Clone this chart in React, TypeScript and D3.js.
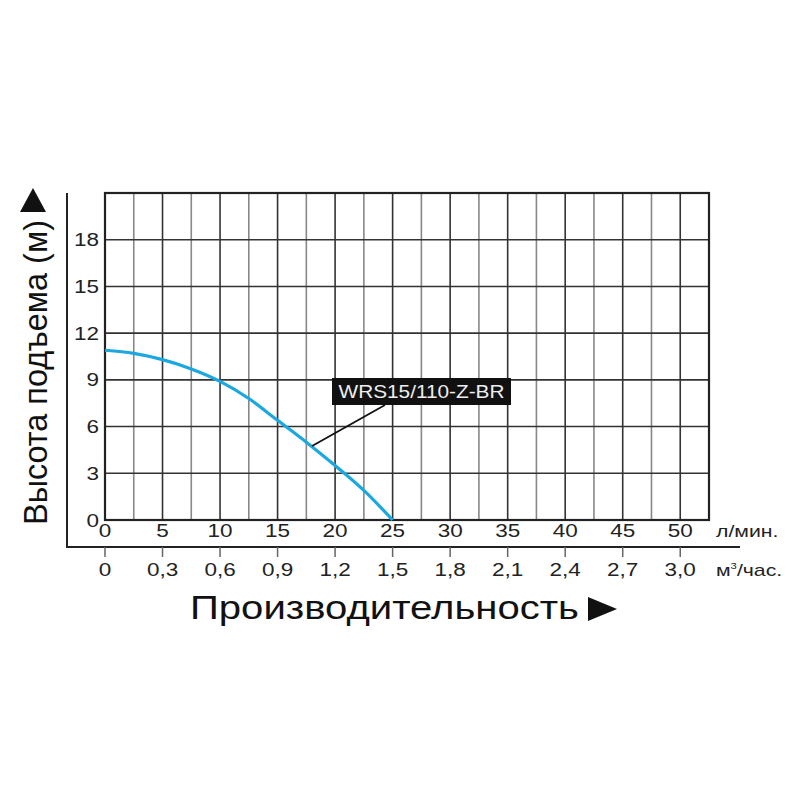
import React from 'react';
import * as d3 from 'd3';

const flowLpm = [0, 2.5, 5, 7.5, 10, 12.5, 15, 17.5, 20, 22.5, 25];
const headM = [10.9, 10.7, 10.3, 9.7, 8.9, 7.8, 6.4, 5.0, 3.5, 1.9, 0];

const lpmTicks = [0, 5, 10, 15, 20, 25, 30, 35, 40, 45, 50];
const m3Ticks = [0, 0.3, 0.6, 0.9, 1.2, 1.5, 1.8, 2.1, 2.4, 2.7, 3.0];
const m3Labels = ['0', '0,3', '0,6', '0,9', '1,2', '1,5', '1,8', '2,1', '2,4', '2,7', '3,0'];
const headTicks = [0, 3, 6, 9, 12, 15, 18];

const modelName = 'WRS15/110-Z-BR';
const leaderAt = { flow: 18, head: 4.75 };

const FONT = 'Arial, "Liberation Sans", sans-serif';
const STRETCH = 1.25; // the source lettering is wider than Arial

// text stretched horizontally around its anchor point
const WideText: React.FC<{
  x: number;
  y: number;
  size: number;
  anchor?: 'start' | 'middle' | 'end';
  fill?: string;
  children: React.ReactNode;
}> = ({ x, y, size, anchor = 'start', fill = '#222', children }) => (
  <text transform={`translate(${x},${y}) scale(${STRETCH},1)`} fontSize={size} textAnchor={anchor} fill={fill}>
    {children}
  </text>
);

const App: React.FC = () => {
  const left = 105;
  const right = 709;
  const top = 193;
  const bottom = 520;

  const x = d3.scaleLinear().domain([0, 52.5]).range([left, right]);
  const xM3 = d3.scaleLinear().domain([0, 3.15]).range([left, right]);
  const y = d3.scaleLinear().domain([0, 21]).range([bottom, top]);

  // grid: vertical every 2.5 l/min, horizontal every 3 m
  const vGrid = d3.range(2.5, 52.5, 2.5);
  const hGrid = d3.range(3, 21, 3);

  const line = d3
    .line<number>()
    .x((_, i) => x(flowLpm[i]))
    .y((d) => y(d))
    .curve(d3.curveMonotoneX);

  const axisY = 547;

  return (
    <svg
      width={800}
      height={800}
      style={{ position: 'absolute', left: 0, top: 0, background: '#fff', fontFamily: FONT }}
    >
      {/* grid */}
      {vGrid.map((v) => (
        <line
          key={'v' + v}
          x1={x(v)}
          x2={x(v)}
          y1={top}
          y2={bottom}
          stroke={v % 5 === 0 ? '#333' : '#888'}
          strokeWidth={1.6}
        />
      ))}
      {hGrid.map((v) => (
        <line key={'h' + v} x1={left} x2={right} y1={y(v)} y2={y(v)} stroke="#333" strokeWidth={1.6} />
      ))}
      <rect x={left} y={top} width={right - left} height={bottom - top} fill="none" stroke="#222" strokeWidth={2.2} />

      {/* outer axis lines */}
      <line x1={67} x2={67} y1={top} y2={axisY} stroke="#222" strokeWidth={2} />
      <line x1={66} x2={740} y1={axisY} y2={axisY} stroke="#222" strokeWidth={2} />
      {m3Ticks.map((v) => (
        <line key={'t' + v} x1={xM3(v)} x2={xM3(v)} y1={axisY} y2={axisY + 10} stroke="#666" strokeWidth={1.5} />
      ))}

      {/* curve */}
      <path d={line(headM) || ''} fill="none" stroke="#1ba8e0" strokeWidth={3.2} />

      {/* annotation */}
      <line x1={x(leaderAt.flow)} y1={y(leaderAt.head)} x2={385} y2={405} stroke="#111" strokeWidth={1.8} />
      <rect x={332} y={378} width={179} height={27} fill="#111" />
      <text x={421.5} y={398} fill="#eee" fontSize={18} textAnchor="middle" textLength={166} lengthAdjust="spacingAndGlyphs">
        {modelName}
      </text>

      {/* y tick labels */}
      {headTicks.map((v) => (
        <WideText key={'yl' + v} x={99} y={y(v) + 6.5} size={18} anchor="end">
          {v}
        </WideText>
      ))}

      {/* x tick labels, l/min */}
      {lpmTicks.map((v) => (
        <WideText key={'xl' + v} x={x(v)} y={537} size={18} anchor="middle">
          {v}
        </WideText>
      ))}
      <WideText x={716} y={537} size={17}>
        л/мин.
      </WideText>

      {/* x tick labels, m3/h */}
      {m3Ticks.map((v, i) => (
        <WideText key={'ml' + v} x={xM3(v)} y={576} size={18} anchor="middle">
          {m3Labels[i]}
        </WideText>
      ))}
      <WideText x={716} y={576} size={17}>
        м<tspan dy={-7} fontSize={9}>3</tspan>
        <tspan dy={7}>/час.</tspan>
      </WideText>

      {/* axis titles */}
      <text x={190} y={619} fontSize={34} fill="#111" textLength={389} lengthAdjust="spacingAndGlyphs">
        Производительность
      </text>
      <path d="M 588 597 L 617 609 L 588 621 Z" fill="#111" />

      <g transform="translate(47,525) rotate(-90)">
        <text x={0} y={0} fontSize={34} fill="#111" textLength={305} lengthAdjust="spacingAndGlyphs">
          Высота подъема (м)
        </text>
      </g>
      <path d="M 20 212 L 33 188 L 46 212 Z" fill="#111" />
    </svg>
  );
};

export default App;
